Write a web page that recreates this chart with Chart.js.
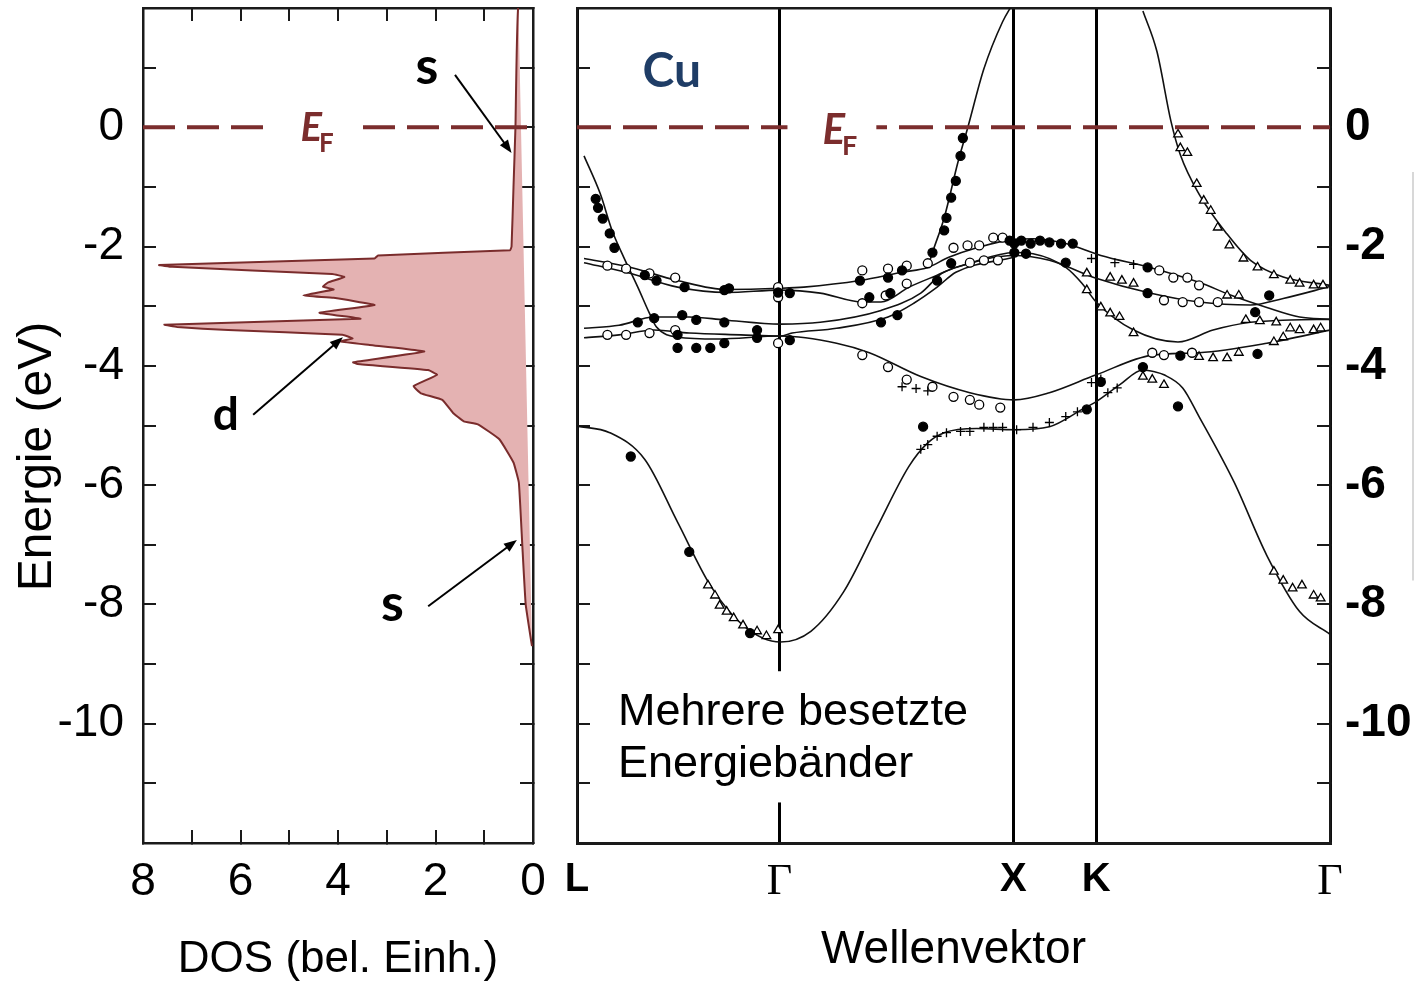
<!DOCTYPE html>
<html>
<head>
<meta charset="utf-8">
<script src="https://cdn.jsdelivr.net/npm/chart.js@4.4.1/dist/chart.umd.min.js"></script>
<style>
  html, body { margin: 0; padding: 0; background: #fff; width: 1416px; height: 986px; overflow: hidden; }
  #dosBox { position: absolute; left: 0; top: 0; width: 560px; height: 986px; }
  #bandBox { position: absolute; left: 560px; top: 0; width: 856px; height: 986px; }
</style>
</head>
<body>
<div id="dosBox"><canvas id="dosChart"></canvas></div>
<div id="bandBox"><canvas id="bandChart"></canvas></div>
<script>
// ---------- data ----------
// density of states (left panel): energy in eV, DOS in arb. units
var dosEnergy = [2.05, 0, -1, -2, -2.06, -2.15, -2.20, -2.31, -2.34, -2.46, -2.51, -2.60, -2.67, -2.72, -2.82, -2.86, -2.98, -3.11, -3.21, -3.31, -3.35, -3.40, -3.48, -3.54, -3.59, -3.65, -3.76, -3.94, -3.97, -4.07, -4.15, -4.34, -4.46, -4.57, -4.79, -4.93, -4.98, -5.23, -5.62, -5.96, -7.0, -8.0, -8.7];
var dosValue  = [0.30, 0.36, 0.40, 0.44, 0.47, 3.18, 3.25, 7.67, 7.40, 4.12, 3.87, 4.20, 4.31, 4.09, 4.71, 4.09, 3.25, 4.38, 3.54, 7.56, 7.30, 6.25, 3.91, 3.70, 3.95, 3.35, 2.23, 3.69, 3.60, 2.15, 1.97, 2.45, 2.30, 1.86, 1.64, 1.42, 1.13, 0.69, 0.40, 0.29, 0.22, 0.15, 0.02];

// k path (right panel)
var kTicks  = [0, 0.866, 1.866, 2.22, 3.22];
var kLabels = ['L', 'Γ', 'X', 'K', 'Γ'];

// calculated bands [k, E]
var bandLowS = [[0.00,-5.01],[0.14,-5.12],[0.29,-5.57],[0.43,-6.62],[0.57,-7.68],[0.71,-8.35],[0.87,-8.63],[1.00,-8.45],[1.14,-7.79],[1.28,-6.73],[1.42,-5.68],[1.50,-5.29],[1.57,-5.12],[1.71,-5.05],[1.87,-5.07],[2.02,-5.02],[2.16,-4.73],[2.22,-4.60],[2.32,-4.32],[2.42,-4.07],[2.47,-4.10],[2.51,-4.15],[2.59,-4.37],[2.66,-4.85],[2.81,-5.95],[2.95,-7.18],[3.09,-8.12],[3.22,-8.50]];
var bandD = [[0.03,-0.48],[0.10,-1.12],[0.15,-1.73],[0.20,-2.18],[0.26,-2.68],[0.31,-3.12],[0.34,-3.35],[0.43,-3.52],[0.60,-3.55],[0.87,-3.50],[1.11,-3.62],[1.25,-3.78],[1.47,-4.18],[1.68,-4.45],[1.87,-4.57],[2.02,-4.45],[2.22,-4.15],[2.46,-3.82],[2.66,-3.78],[2.95,-3.62],[3.22,-3.40]];
var bandB1 = [[0.03,-2.20],[0.21,-2.33],[0.43,-2.57],[0.64,-2.72],[0.87,-2.70],[0.97,-2.68],[1.21,-2.57],[1.39,-2.43],[1.50,-2.35],[1.59,-2.18],[1.71,-2.02],[1.87,-1.88],[1.95,-1.87],[2.09,-1.95],[2.24,-2.15],[2.45,-2.35],[2.66,-2.60],[2.80,-2.82],[2.95,-3.02],[3.09,-3.18],[3.22,-3.22]];
var bandB2 = [[0.03,-2.27],[0.21,-2.43],[0.43,-2.68],[0.64,-2.77],[0.87,-2.73],[1.04,-2.78],[1.22,-2.93],[1.30,-2.93],[1.42,-2.68],[1.54,-2.48],[1.62,-2.35],[1.87,-2.15],[2.02,-2.23],[2.22,-2.53],[2.45,-2.78],[2.66,-2.93],[2.88,-2.98],[3.02,-2.87],[3.22,-2.67]];
var bandC = [[0.03,-3.37],[0.18,-3.32],[0.33,-3.18],[0.48,-3.18],[0.63,-3.23],[0.87,-3.30],[1.04,-3.27],[1.30,-3.07],[1.47,-2.78],[1.56,-2.45],[1.68,-2.28],[1.87,-2.10],[1.95,-2.12],[2.09,-2.35],[2.16,-2.62],[2.22,-2.93],[2.38,-3.40],[2.57,-3.60],[2.72,-3.40],[2.88,-3.27],[3.05,-3.23],[3.22,-3.22]];
var bandE = [[0.03,-3.53],[0.18,-3.48],[0.33,-3.40],[0.48,-3.45],[0.70,-3.48],[0.87,-3.50],[0.92,-3.45],[1.11,-3.37],[1.33,-3.18],[1.44,-2.95],[1.54,-2.68],[1.62,-2.43],[1.87,-2.18]];
var bandSX = [[1.50,-2.35],[1.52,-2.10],[1.57,-1.52],[1.63,-0.57],[1.67,-0.02],[1.74,0.98],[1.82,1.77],[1.86,2.05]];
var bandTopR = [[2.42,1.95],[2.48,1.27],[2.54,0.10],[2.58,-0.46],[2.66,-1.12],[2.78,-1.79],[2.88,-2.23],[3.02,-2.51],[3.22,-2.65]];

// measured points [k, E]
var filledPts = [[0.08,-1.20],[0.09,-1.35],[0.11,-1.53],[0.14,-1.78],[0.16,-2.02],
  [0.29,-2.48],[0.34,-2.57],[0.46,-2.68],[0.63,-2.73],[0.65,-2.70],[0.86,-2.77],[0.91,-2.78],
  [0.26,-3.27],[0.33,-3.20],[0.45,-3.15],[0.51,-3.23],[0.63,-3.27],[0.43,-3.70],[0.51,-3.70],[0.57,-3.70],[0.63,-3.62],[0.77,-3.40],[0.77,-3.53],[0.91,-3.57],[0.43,-3.48],
  [0.23,-5.52],[0.48,-7.12],[0.74,-8.48],
  [1.21,-2.57],[1.33,-2.52],[1.39,-2.40],[1.25,-2.85],[1.34,-2.78],[1.30,-3.27],[1.37,-3.15],[1.54,-2.57],[1.60,-2.28],
  [1.65,-0.18],[1.64,-0.48],[1.62,-0.90],[1.60,-1.18],[1.58,-1.52],[1.57,-1.73],[1.52,-2.10],
  [1.85,-1.90],[1.87,-1.95],[1.90,-1.90],[1.94,-1.95],[1.98,-1.90],[2.02,-1.93],[2.07,-1.95],[2.12,-1.95],[1.87,-2.10],[1.92,-2.12],
  [2.09,-2.27],[2.44,-2.35],[2.44,-2.78],[2.96,-2.82],[2.90,-3.10],[2.58,-3.83],[2.91,-3.80],[2.42,-4.02],[2.57,-4.68],[2.24,-4.27],[2.18,-4.73],[1.48,-5.02]];
var openPts = [[0.13,-2.32],[0.21,-2.37],[0.31,-2.45],[0.42,-2.52],[0.86,-2.68],[0.13,-3.48],[0.21,-3.48],[0.31,-3.45],[0.42,-3.40],[0.86,-3.62],[0.86,-2.85],
  [1.22,-3.82],[1.33,-4.02],[1.41,-4.23],[1.52,-4.35],[1.61,-4.52],[1.68,-4.57],[1.72,-4.65],[1.81,-4.70],
  [1.22,-2.40],[1.33,-2.37],[1.41,-2.32],[1.50,-2.28],[1.22,-2.95],[1.32,-2.82],[1.41,-2.62],
  [1.61,-2.02],[1.67,-1.98],[1.72,-1.98],[1.78,-1.85],[1.82,-1.85],[1.68,-2.27],[1.74,-2.23],[1.80,-2.23],
  [2.49,-2.40],[2.55,-2.52],[2.61,-2.52],[2.66,-2.65],[2.51,-2.90],[2.59,-2.93],[2.66,-2.93],[2.74,-2.93],[2.46,-3.78],[2.51,-3.82],[2.63,-3.78]];
var triPts = [[2.57,-0.12],[2.58,-0.35],[2.61,-0.43],[2.65,-0.95],[2.68,-1.23],[2.71,-1.40],[2.74,-1.68],[2.79,-1.98],[2.85,-2.20],[2.91,-2.35],[2.98,-2.48],[3.05,-2.57],[3.09,-2.62],[3.15,-2.65],[3.19,-2.65],
  [2.18,-2.45],[2.28,-2.52],[2.33,-2.57],[2.38,-2.62],[2.18,-2.73],[2.24,-3.02],[2.28,-3.12],[2.32,-3.18],[2.38,-3.45],[2.78,-2.82],[2.83,-2.82],
  [2.86,-3.23],[2.92,-3.25],[2.99,-3.27],[3.05,-3.37],[3.09,-3.40],[3.15,-3.40],[3.18,-3.37],[2.66,-3.85],[2.72,-3.87],[2.78,-3.87],[2.83,-3.78],[2.98,-3.60],[3.02,-3.52],
  [2.42,-4.18],[2.46,-4.23],[2.51,-4.32],
  [2.98,-7.45],[3.02,-7.60],[3.06,-7.73],[3.10,-7.68],[3.15,-7.85],[3.18,-7.90],
  [0.56,-7.68],[0.59,-7.85],[0.61,-8.02],[0.64,-8.12],[0.67,-8.23],[0.71,-8.35],[0.77,-8.45],[0.81,-8.53],[0.86,-8.43]];
var plusPts = [[1.47,-5.40],[1.50,-5.32],[1.54,-5.18],[1.58,-5.12],[1.64,-5.10],[1.68,-5.10],[1.74,-5.03],[1.78,-5.03],[1.82,-5.03],[1.88,-5.07],[1.95,-5.03],[2.02,-4.95],[2.09,-4.85],[2.14,-4.77],[2.27,-4.45],[2.31,-4.37],
  [1.39,-4.35],[1.45,-4.38],[1.50,-4.42],[2.20,-4.28],[2.24,-4.22],[2.20,-2.20],[2.30,-2.27],[2.38,-2.30]];

var energyMin = -12, energyMax = 2;
var fermiColor = '#7b2d2d';
var frameColor = '#1a1a1a';
var sansFont = '"Liberation Sans", Arial, sans-serif';

// ---------- helpers ----------
function toXY(pts) {
    return pts.map(function (p) { return { x: p[0], y: p[1] }; });
}

function bandLine(pts) {
    return {
        data: toXY(pts),
        showLine: true,
        borderColor: '#111',
        borderWidth: 1.6,
        pointRadius: 0,
        cubicInterpolationMode: 'monotone'
    };
}

function markers(pts, style, fillCol, radius) {
    return {
        data: toXY(pts),
        showLine: false,
        pointStyle: style,
        pointRadius: radius,
        pointBackgroundColor: fillCol,
        pointBorderColor: '#000',
        pointBorderWidth: 1.3
    };
}

function arrow(c, x1, y1, x2, y2) {
    var a = Math.atan2(y2 - y1, x2 - x1), h = 13, w = 5;
    c.strokeStyle = '#000';
    c.fillStyle = '#000';
    c.lineWidth = 2;
    c.beginPath();
    c.moveTo(x1, y1);
    c.lineTo(x2 - Math.cos(a) * h * 0.8, y2 - Math.sin(a) * h * 0.8);
    c.stroke();
    c.beginPath();
    c.moveTo(x2, y2);
    c.lineTo(x2 - h * Math.cos(a) + w * Math.sin(a), y2 - h * Math.sin(a) - w * Math.cos(a));
    c.lineTo(x2 - h * Math.cos(a) - w * Math.sin(a), y2 - h * Math.sin(a) + w * Math.cos(a));
    c.closePath();
    c.fill();
}

function drawEF(c, x, y, big) {
    c.fillStyle = fermiColor;
    c.textAlign = 'left';
    c.textBaseline = 'alphabetic';
    c.font = 'italic bold ' + big + 'px Lato, "Open Sans", sans-serif';
    c.fillText('E', x, y);
    var w = c.measureText('E').width;
    c.font = 'bold ' + Math.round(big * 0.64) + 'px Lato, "Open Sans", sans-serif';
    c.fillText('F', x + w - 3, y + 11);
}

function yTickLabel(v) {
    return (v % 2 === 0 && v < energyMax && v > energyMin) ? v : '';
}

// fixed axis size, no extra room for the end labels
function fixSize(w, h) {
    return function (s) {
        if (w !== null) s.width = w;
        if (h !== null) s.height = h;
        s.paddingTop = 0; s.paddingBottom = 0;
        s.paddingLeft = 0; s.paddingRight = 0;
    };
}

function frameAxis(extra) {
    var base = {
        type: 'linear',
        border: { display: true, color: frameColor, width: 2.5 },
        grid: { drawOnChartArea: false, drawTicks: true, tickLength: -13, color: frameColor, lineWidth: 2 }
    };
    return Object.assign(base, extra);
}

// ---------- left panel: DOS ----------
var dosPoints = [{ x: 0, y: dosEnergy[0] }];
for (var i = 0; i < dosEnergy.length; i++) {
    dosPoints.push({ x: dosValue[i], y: dosEnergy[i] });
}
dosPoints.push({ x: 0, y: dosEnergy[dosEnergy.length - 1] });
var lastDos = dosPoints.length - 1;

var dosDecor = {
    id: 'dosDecor',
    afterDatasetsDraw: function (chart) {
        var c = chart.ctx, sx = chart.scales.x, sy = chart.scales.y;
        var px = function (v) { return sx.getPixelForValue(v); };
        var py = function (v) { return sy.getPixelForValue(v); };
        c.save();
        c.fillStyle = '#fff';
        c.fillRect(px(5.3), py(0) - 8, px(3.7) - px(5.3), 16);
        drawEF(c, px(4.77), py(-0.23), 40);

        c.fillStyle = '#000';
        c.textAlign = 'left';
        c.font = 'bold 52px Lato, "Open Sans", sans-serif';
        c.fillText('s', px(2.41), py(0.73));
        c.fillText('s', px(3.12), py(-8.28));
        c.font = 'bold 46px Lato, "Open Sans", sans-serif';
        c.fillText('d', px(6.57), py(-5.07));
        arrow(c, px(1.6), py(0.88), px(0.44), py(-0.43));
        arrow(c, px(5.74), py(-4.82), px(3.9), py(-3.52));
        arrow(c, px(2.15), py(-8.03), px(0.33), py(-6.92));

        // y axis title
        c.translate(51, (py(energyMax) + py(energyMin)) / 2 + 31);
        c.rotate(-Math.PI / 2);
        c.textAlign = 'center';
        c.font = '48px ' + sansFont;
        c.fillText('Energie (eV)', 0, 0);
        c.restore();
    }
};

new Chart(document.getElementById('dosChart'), {
    type: 'scatter',
    data: {
        datasets: [
            {
                data: [{ x: 8, y: 0 }, { x: 0, y: 0 }],
                showLine: true,
                borderColor: fermiColor,
                borderWidth: 4,
                borderDash: [32, 12],
                pointRadius: 0
            },
            {
                data: dosPoints,
                showLine: true,
                fill: 'shape',
                backgroundColor: '#e4b2b2',
                borderColor: '#7a2c2c',
                borderWidth: 2,
                pointRadius: 0,
                tension: 0.1,
                segment: {
                    borderColor: function (ctx) {
                        return (ctx.p0DataIndex === 0 || ctx.p1DataIndex === lastDos) ? 'rgba(0,0,0,0)' : undefined;
                    }
                }
            }
        ]
    },
    options: {
        responsive: true,
        maintainAspectRatio: false,
        animation: false,
        events: [],
        layout: { padding: { top: 8, right: 27, left: 0, bottom: 0 } },
        plugins: { legend: { display: false }, tooltip: { enabled: false } },
        scales: {
            x: frameAxis({
                position: 'bottom', reverse: true, min: 0, max: 8,
                ticks: {
                    stepSize: 1, autoSkip: false, maxRotation: 0, padding: 25, color: '#000',
                    font: { family: sansFont, size: 46 },
                    callback: function (v) { return v % 2 === 0 ? v : ''; }
                },
                title: {
                    display: true, text: 'DOS (bel. Einh.)', color: '#000',
                    font: { family: sansFont, size: 44 }, padding: { top: 0, bottom: 0 }
                },
                afterFit: fixSize(null, 143)
            }),
            x2: frameAxis({
                position: 'top', reverse: true, min: 0, max: 8,
                ticks: { display: false, stepSize: 1 },
                afterFit: fixSize(null, 0)
            }),
            y: frameAxis({
                position: 'left', min: energyMin, max: energyMax,
                ticks: {
                    stepSize: 1, autoSkip: false, padding: 32, color: '#000',
                    font: { family: sansFont, size: 46 },
                    callback: yTickLabel
                },
                afterFit: fixSize(143, null)
            }),
            y2: frameAxis({
                position: 'right', min: energyMin, max: energyMax,
                ticks: { display: false, stepSize: 1 },
                afterFit: fixSize(0, null)
            })
        }
    },
    plugins: [dosDecor]
});

// ---------- right panel: band structure ----------
var bandDecor = {
    id: 'bandDecor',
    afterDatasetsDraw: function (chart) {
        var c = chart.ctx, sx = chart.scales.x, sy = chart.scales.y;
        c.save();
        c.fillStyle = '#fff';
        c.fillRect(sx.getPixelForValue(0.90), sy.getPixelForValue(0) - 9,
                   sx.getPixelForValue(1.28) - sx.getPixelForValue(0.90), 18);
        drawEF(c, sx.getPixelForValue(1.05), sy.getPixelForValue(-0.28), 42);

        c.fillStyle = '#1f3d66';
        c.textAlign = 'left';
        c.font = 'bold 48px Lato, "Open Sans", sans-serif';
        c.fillText('Cu', sx.getPixelForValue(0.28), sy.getPixelForValue(0.68));
        c.restore();
    },
    afterDraw: function (chart) {
        var c = chart.ctx, sx = chart.scales.x, sy = chart.scales.y;
        var x0 = sx.getPixelForValue(0.098), x1 = sx.getPixelForValue(1.744);
        var y0 = sy.getPixelForValue(-9.12), y1 = sy.getPixelForValue(-11.32);
        c.save();
        c.fillStyle = '#fff';
        c.fillRect(x0, y0, x1 - x0, y1 - y0);
        c.fillStyle = '#000';
        c.textAlign = 'left';
        c.textBaseline = 'alphabetic';
        c.font = '45px ' + sansFont;
        var tx = sx.getPixelForValue(0.175);
        c.fillText('Mehrere besetzte', tx, sy.getPixelForValue(-10.02));
        c.fillText('Energiebänder', tx, sy.getPixelForValue(-10.9));
        // faint scan line at the far right edge of the figure
        c.strokeStyle = '#d8d8d8';
        c.lineWidth = 2;
        c.beginPath();
        c.moveTo(chart.width - 3, sy.getPixelForValue(-0.75));
        c.lineTo(chart.width - 3, sy.getPixelForValue(-7.6));
        c.stroke();
        c.restore();
    }
};

new Chart(document.getElementById('bandChart'), {
    type: 'scatter',
    data: {
        datasets: [
            {
                data: [{ x: kTicks[0], y: 0 }, { x: kTicks[kTicks.length - 1], y: 0 }],
                showLine: true,
                borderColor: fermiColor,
                borderWidth: 4,
                borderDash: [34, 12],
                pointRadius: 0
            },
            markers(filledPts, 'circle', '#000', 4.5),
            markers(openPts, 'circle', '#fff', 4.5),
            markers(triPts, 'triangle', '#fff', 5),
            markers(plusPts, 'cross', '#000', 4.5),
            bandLine(bandLowS),
            bandLine(bandD),
            bandLine(bandB1),
            bandLine(bandB2),
            bandLine(bandC),
            bandLine(bandE),
            bandLine(bandSX),
            bandLine(bandTopR)
        ]
    },
    options: {
        responsive: true,
        maintainAspectRatio: false,
        animation: false,
        events: [],
        layout: { padding: { top: 8, right: 0, left: 0, bottom: 0 } },
        plugins: { legend: { display: false }, tooltip: { enabled: false } },
        scales: {
            x: {
                type: 'linear', position: 'bottom', min: kTicks[0], max: kTicks[kTicks.length - 1],
                afterBuildTicks: function (s) {
                    s.ticks = kTicks.map(function (v) { return { value: v }; });
                },
                ticks: {
                    autoSkip: false, maxRotation: 0, padding: 13, color: '#000',
                    font: function (ctx) {
                        return kLabels[ctx.index] === 'Γ'
                            ? { family: '"Liberation Serif", "DejaVu Serif", serif', size: 44 }
                            : { family: sansFont, size: 40, weight: 'bold' };
                    },
                    callback: function (v, idx) { return kLabels[idx]; }
                },
                grid: { drawTicks: false, color: '#000', lineWidth: 3 },
                border: { display: true, color: frameColor, width: 3 },
                title: {
                    display: true, text: 'Wellenvektor', color: '#000',
                    font: { family: sansFont, size: 46 }, padding: { top: 0, bottom: 8 }
                },
                afterFit: fixSize(null, 143)
            },
            x2: frameAxis({
                position: 'top', min: kTicks[0], max: kTicks[kTicks.length - 1],
                ticks: { display: false },
                grid: { display: false },
                afterFit: fixSize(null, 0)
            }),
            y: frameAxis({
                position: 'left', min: energyMin, max: energyMax,
                ticks: { display: false, stepSize: 1 },
                afterFit: fixSize(17, null)
            }),
            y2: frameAxis({
                position: 'right', min: energyMin, max: energyMax,
                ticks: {
                    stepSize: 1, autoSkip: false, padding: 28, color: '#000',
                    font: { family: sansFont, size: 46, weight: 'bold' },
                    callback: yTickLabel
                },
                afterFit: fixSize(86, null)
            })
        }
    },
    plugins: [bandDecor]
});
</script>
</body>
</html>
